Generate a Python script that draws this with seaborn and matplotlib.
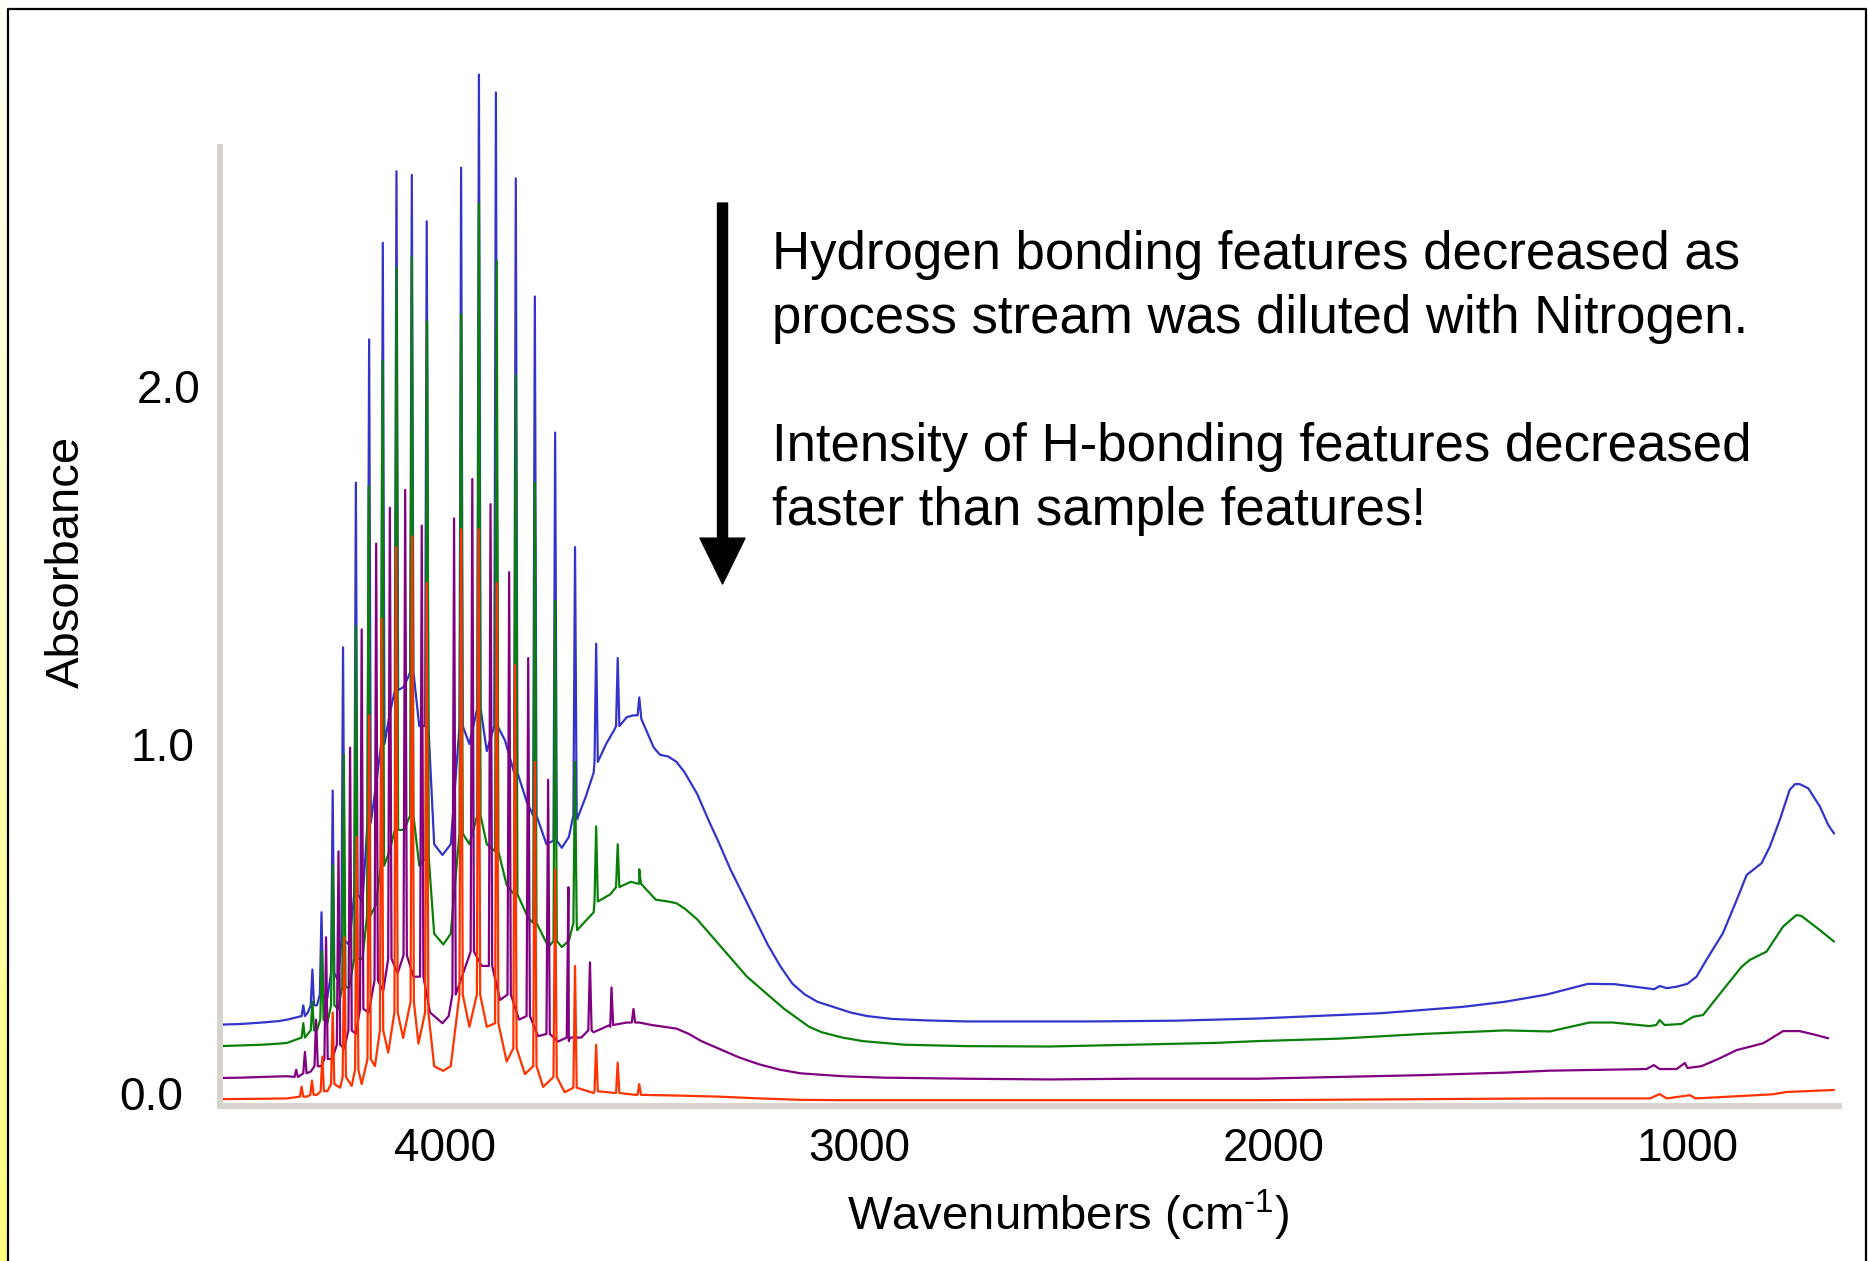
import numpy as np
import pandas as pd
import matplotlib
matplotlib.use("Agg")
import matplotlib.pyplot as plt
import seaborn as sns
from matplotlib.ticker import MultipleLocator
from matplotlib.transforms import ScaledTranslation
from matplotlib.lines import Line2D

# ---------------------------------------------------------------- data
# Sharp ro-vibrational lines: position (cm-1), peak top and foot (absorbance)
BLUE_LINE_WN = [4301, 4279, 4257, 4230, 4205, 4174, 4142, 4109, 4076, 4039, 4003,
                3920, 3877, 3836, 3788, 3742, 3693, 3645, 3594, 3542, 3490]
BLUE_LINE_TOP = [0.27, 0.37, 0.53, 0.87, 1.27, 1.73, 2.13, 2.40, 2.60, 2.59, 2.46,
                 2.61, 2.87, 2.82, 2.58, 2.25, 1.87, 1.55, 1.28, 1.24, 1.13]
BLUE_LINE_FOOT = [0.24, 0.27, 0.30, 0.36, 0.45, 0.58, 0.78, 1.00, 1.15, 1.20, 1.05,
                  1.05, 1.10, 1.05, 0.92, 0.80, 0.73, 0.80, 0.95, 1.05, 1.08]

GREEN_LINE_WN = [4301, 4279, 4256, 4230, 4203, 4174, 4143, 4110, 4076, 4039, 4002,
                 3920, 3877, 3834, 3788, 3742, 3693, 3645, 3594, 3542, 3490]
GREEN_LINE_TOP = [0.22, 0.28, 0.42, 0.66, 0.97, 1.33, 1.72, 2.07, 2.33, 2.36, 2.18,
                  2.20, 2.51, 2.35, 2.03, 1.73, 1.40, 0.95, 0.77, 0.72, 0.65]
GREEN_LINE_FOOT = [0.18, 0.20, 0.23, 0.27, 0.32, 0.40, 0.52, 0.66, 0.76, 0.80, 0.68,
                   0.75, 0.80, 0.70, 0.58, 0.50, 0.45, 0.50, 0.56, 0.60, 0.61]

PURPLE_LINE_WN = [4318, 4297, 4270, 4246, 4216, 4188, 4160, 4125, 4092, 4055, 4015,
                  3937, 3893, 3849, 3804, 3758, 3710, 3661, 3609, 3557, 3504]
PURPLE_LINE_TOP = [0.09, 0.14, 0.23, 0.46, 0.70, 0.99, 1.32, 1.56, 1.66, 1.71, 1.61,
                   1.63, 1.74, 1.67, 1.48, 1.24, 0.90, 0.60, 0.39, 0.32, 0.26]
PURPLE_LINE_FOOT = [0.07, 0.08, 0.10, 0.12, 0.16, 0.20, 0.26, 0.34, 0.40, 0.41, 0.35,
                    0.30, 0.42, 0.38, 0.30, 0.24, 0.19, 0.18, 0.20, 0.215, 0.222]

RED_LINE_WN = [4305, 4280, 4255, 4230, 4202, 4172, 4142, 4112, 4077, 4038, 4003,
               3920, 3878, 3834, 3790, 3742, 3693, 3645, 3594, 3542, 3490]
RED_LINE_TOP = [0.043, 0.06, 0.127, 0.25, 0.46, 0.74, 1.08, 1.35, 1.55, 1.58, 1.45,
                1.60, 1.60, 1.45, 1.22, 0.95, 0.65, 0.38, 0.16, 0.11, 0.05]
RED_LINE_FOOT = [0.015, 0.02, 0.03, 0.05, 0.07, 0.09, 0.12, 0.20, 0.25, 0.28, 0.25,
                 0.30, 0.30, 0.22, 0.15, 0.10, 0.07, 0.04, 0.03, 0.025, 0.02]

# Background / broad-band envelope of each spectrum (cm-1, absorbance)
BLUE_ENV_WN = [4502, 4450, 4400, 4360, 4340, 4290, 4268, 4243, 4217, 4190, 4158,
               4126, 4093, 4058, 4021, 3985, 3965, 3945, 3900, 3858, 3814, 3762,
               3714, 3677, 3660, 3640, 3620, 3600, 3570, 3550, 3520, 3505, 3485,
               3470, 3455, 3440, 3420, 3400, 3380, 3350, 3320, 3300, 3270, 3240,
               3210, 3180, 3150, 3120, 3090, 3060, 3020, 2980, 2940, 2880, 2800,
               2700, 2600, 2400, 2200, 2000, 1900, 1800, 1700, 1600, 1500, 1400,
               1300, 1250, 1200, 1188, 1135, 1059, 1040, 1027, 1010, 986, 960,
               938, 914, 874, 841, 817, 781, 761, 737, 713, 700, 689, 668, 640,
               620, 606]
BLUE_ENV_ABS = [0.216, 0.218, 0.222, 0.226, 0.23, 0.25, 0.27, 0.29, 0.34, 0.44, 0.56,
                0.88, 1.08, 1.16, 1.05, 0.72, 0.69, 0.72, 1.00, 0.98, 1.01, 0.84,
                0.72, 0.71, 0.74, 0.79, 0.85, 0.92, 1.00, 1.04, 1.075, 1.08, 1.07,
                1.03, 0.99, 0.97, 0.965, 0.95, 0.92, 0.86, 0.78, 0.73, 0.65, 0.58,
                0.51, 0.44, 0.38, 0.33, 0.30, 0.28, 0.265, 0.25, 0.24, 0.232, 0.228,
                0.225, 0.225, 0.225, 0.227, 0.233, 0.238, 0.243, 0.248, 0.257, 0.266, 0.28,
                0.30, 0.315, 0.33, 0.33, 0.329, 0.318, 0.315, 0.324, 0.318, 0.322, 0.33,
                0.35, 0.397, 0.472, 0.564, 0.634, 0.667, 0.713, 0.788, 0.872, 0.888, 0.888, 0.876, 0.825,
                0.774, 0.75]

GREEN_ENV_WN = [4502, 4450, 4400, 4360, 4340, 4290, 4268, 4243, 4217, 4190, 4158,
                4126, 4093, 4058, 4021, 3985, 3963, 3945, 3900, 3858, 3810, 3758,
                3709, 3677, 3660, 3640, 3600, 3560, 3530, 3510, 3490, 3470, 3450,
                3420, 3400, 3380, 3350, 3320, 3290, 3260, 3230, 3200, 3170, 3140,
                3110, 3080, 3050, 3000, 2950, 2850, 2700, 2500, 2300, 2100, 2000,
                1800, 1600, 1400, 1292, 1196, 1140, 1051, 1035, 1027, 1015, 974,
                946, 922, 874, 829, 809, 769, 729, 697, 685, 640, 606]
GREEN_ENV_ABS = [0.156, 0.158, 0.16, 0.163, 0.165, 0.19, 0.20, 0.22, 0.26, 0.32, 0.40,
                 0.55, 0.70, 0.76, 0.66, 0.47, 0.44, 0.47, 0.72, 0.72, 0.606, 0.514,
                 0.433, 0.433, 0.45, 0.48, 0.53, 0.58, 0.605, 0.615, 0.61, 0.59, 0.565,
                 0.56, 0.555, 0.54, 0.51, 0.47, 0.43, 0.39, 0.35, 0.32, 0.29, 0.26,
                 0.235, 0.21, 0.195, 0.18, 0.17, 0.16, 0.156, 0.155, 0.16, 0.165, 0.17,
                 0.177, 0.19, 0.20, 0.197, 0.222, 0.222, 0.212, 0.215, 0.229, 0.215, 0.218,
                 0.238, 0.243, 0.313, 0.378, 0.397, 0.42, 0.49, 0.522, 0.52, 0.48, 0.448]

PURPLE_ENV_WN = [4502, 4450, 4400, 4340, 4307, 4283, 4258, 4231, 4202, 4174, 4143,
                 4108, 4073, 4035, 3995, 3965, 3950, 3915, 3870, 3826, 3780, 3734,
                 3686, 3660, 3630, 3600, 3560, 3520, 3490, 3460, 3430, 3400, 3370,
                 3340, 3300, 3250, 3200, 3150, 3100, 3000, 2900, 2700, 2500, 2300,
                 2000, 1800, 1600, 1400, 1292, 1059, 1041, 1027, 986, 966, 960, 926,
                 882, 841, 777, 729, 689, 656, 620]
PURPLE_ENV_ABS = [0.067, 0.068, 0.07, 0.072, 0.075, 0.085, 0.10, 0.12, 0.15, 0.19, 0.25,
                  0.31, 0.36, 0.35, 0.25, 0.22, 0.24, 0.36, 0.38, 0.285, 0.23, 0.184,
                  0.169, 0.17, 0.18, 0.195, 0.21, 0.222, 0.222, 0.215, 0.21, 0.205, 0.19,
                  0.17, 0.15, 0.125, 0.105, 0.09, 0.08, 0.072, 0.068, 0.065, 0.063, 0.065,
                  0.065, 0.07, 0.075, 0.082, 0.0875, 0.092, 0.103, 0.092, 0.092, 0.109, 0.095, 0.10,
                  0.122, 0.145, 0.164, 0.198, 0.198, 0.189, 0.178]

RED_ENV_WN = [4502, 4400, 4340, 4292, 4268, 4243, 4212, 4184, 4160, 4128, 4096,
              4060, 4023, 3985, 3963, 3945, 3900, 3858, 3810, 3766, 3722, 3670,
              3600, 3500, 3400, 3300, 3200, 3100, 3000, 2000, 1300, 1050, 1027,
              1010, 954, 940, 826, 753, 721, 606]
RED_ENV_ABS = [0.008, 0.009, 0.01, 0.015, 0.02, 0.03, 0.04, 0.045, 0.05, 0.10, 0.138,
               0.179, 0.163, 0.10, 0.087, 0.10, 0.21, 0.21, 0.113, 0.078, 0.042, 0.027,
               0.025, 0.02, 0.018, 0.015, 0.01, 0.006, 0.005, 0.005, 0.01, 0.01, 0.022,
               0.01, 0.019, 0.01, 0.017, 0.0215, 0.028, 0.0335]

COLORS = {"blue": "#3434cc", "green": "#0a800a", "purple": "#800080", "red": "#ff3300"}

NOTE = ("Hydrogen bonding features decreased as\n"
        "process stream was diluted with Nitrogen.\n\n"
        "Intensity of H-bonding features decreased\n"
        "faster than sample features!")


def spectrum(env_wn, env_abs, line_wn, line_top, line_foot, half_width=4.0):
    """Merge envelope points and narrow line profiles into one trace."""
    pts = list(zip(env_wn, env_abs))
    for w, t, f in zip(line_wn, line_top, line_foot):
        pts += [(w + half_width, f), (w, t), (w - half_width, f)]
    pts.sort(key=lambda p: -p[0])
    return pd.DataFrame(pts, columns=["wavenumber", "absorbance"])


traces = {
    "blue": spectrum(BLUE_ENV_WN, BLUE_ENV_ABS, BLUE_LINE_WN, BLUE_LINE_TOP, BLUE_LINE_FOOT),
    "green": spectrum(GREEN_ENV_WN, GREEN_ENV_ABS, GREEN_LINE_WN, GREEN_LINE_TOP, GREEN_LINE_FOOT),
    "purple": spectrum(PURPLE_ENV_WN, PURPLE_ENV_ABS, PURPLE_LINE_WN, PURPLE_LINE_TOP, PURPLE_LINE_FOOT),
    "red": spectrum(RED_ENV_WN, RED_ENV_ABS, RED_LINE_WN, RED_LINE_TOP, RED_LINE_FOOT),
}

# ---------------------------------------------------------------- style
sns.set_style("white")
plt.rcParams["font.family"] = ["Liberation Sans", "DejaVu Sans"]
plt.rcParams["mathtext.fontset"] = "custom"
plt.rcParams["mathtext.rm"] = "Liberation Sans"
plt.rcParams["mathtext.default"] = "regular"
plt.rcParams["text.color"] = "black"
plt.rcParams["axes.labelcolor"] = "black"
plt.rcParams["xtick.color"] = "black"
plt.rcParams["ytick.color"] = "black"

W, H = 1868, 1261
fig = plt.figure(figsize=(W / 100, H / 100), dpi=100, facecolor="white")

# frame with a yellow strip on the left
strip = fig.add_axes([0, 0, 7 / W, 1])
grad = np.linspace(0, 1, 256)[:, None]
strip.imshow(np.dstack([np.ones_like(grad), np.ones_like(grad), 0.96 - 0.45 * grad]),
             aspect="auto", extent=[0, 1, 0, 1], origin="upper")
strip.set_axis_off()
fig.add_artist(Line2D([7.5 / W, 7.5 / W, 1866 / W, 1866 / W], [0, 1 - 9 / H, 1 - 9 / H, 0],
                      transform=fig.transFigure, color="black", lw=1.6))

ax_l, ax_r, ax_t, ax_b = 220, 1839, 147, 1105.5
ax = fig.add_axes([ax_l / W, 1 - ax_b / H, (ax_r - ax_l) / W, (ax_b - ax_t) / H])
ax.set_facecolor("none")

for name in ["blue", "green", "purple", "red"]:
    sns.lineplot(data=traces[name], x="wavenumber", y="absorbance", sort=False,
                 estimator=None, color=COLORS[name], lw=1.6, ax=ax)
for ln in ax.lines:
    ln.set_clip_on(False)

ax.set_xlim(4502, 594)
ax.set_ylim(-0.0098, 2.6676)

for side in ["top", "right"]:
    ax.spines[side].set_visible(False)
for side in ["left", "bottom"]:
    ax.spines[side].set_color("#d6d3cc")
    ax.spines[side].set_linewidth(4.2)

yvals = np.round(np.arange(0, 2.61, 0.2), 2)
ylabels = {0.0: "0.0", 1.0: "1.0", 2.0: "2.0"}
ax.set_yticks(yvals)
ax.set_yticklabels([ylabels.get(float(v), "") for v in yvals])
ax.yaxis.set_minor_locator(MultipleLocator(0.04))
ax.set_xticks([4000, 3000, 2000, 1000])
ax.set_xticklabels(["4000", "3000", "2000", "1000"])
ax.xaxis.set_minor_locator(MultipleLocator(250))

ax.tick_params(axis="y", which="major", direction="inout", length=8, width=1.1,
               labelsize=33, pad=10)
ax.tick_params(axis="y", which="minor", direction="inout", length=4.3, width=1.1)
ax.tick_params(axis="x", which="major", direction="inout", length=6.5, width=1.1,
               labelsize=33, pad=12)
ax.tick_params(axis="x", which="minor", direction="inout", length=3.6, width=1.1)

dx = ScaledTranslation(17 / 100, 0, fig.dpi_scale_trans)
for lbl in ax.get_xticklabels():
    lbl.set_transform(lbl.get_transform() + dx)
# individual nudges of the y tick labels
nudges = {"0.0": (-17, 9), "1.0": (-6, 0)}
for lbl in ax.get_yticklabels():
    if lbl.get_text() in nudges:
        ox, oy = nudges[lbl.get_text()]
        lbl.set_transform(lbl.get_transform() + ScaledTranslation(ox / 100, oy / 100, fig.dpi_scale_trans))

ax.set_xlabel(r"Wavenumbers (cm$^{\text{-1}}$)", fontsize=34)
ax.xaxis.set_label_coords((1068.5 - ax_l) / (ax_r - ax_l), (ax_b - 1230) / (ax_b - ax_t))
ax.xaxis.label.set_va("baseline")
ax.set_ylabel("Absorbance", fontsize=34)
ax.yaxis.label.set(rotation_mode="default", va="center", ha="center")
ax.yaxis.set_label_coords((67 - ax_l) / (ax_r - ax_l), (ax_b - 562) / (ax_b - ax_t))

ax.annotate("", xy=(3289, 1.447), xytext=(3289, 2.511),
            arrowprops=dict(facecolor="black", edgecolor="black", width=7.2,
                            headwidth=32.4, headlength=33, shrink=0),
            annotation_clip=False)

fig.text(772 / W, 1 - 230 / H, NOTE, fontsize=38, va="top", ha="left",
         linespacing=1.36, color="black")

fig.savefig("out.png", dpi=100, facecolor="white")
